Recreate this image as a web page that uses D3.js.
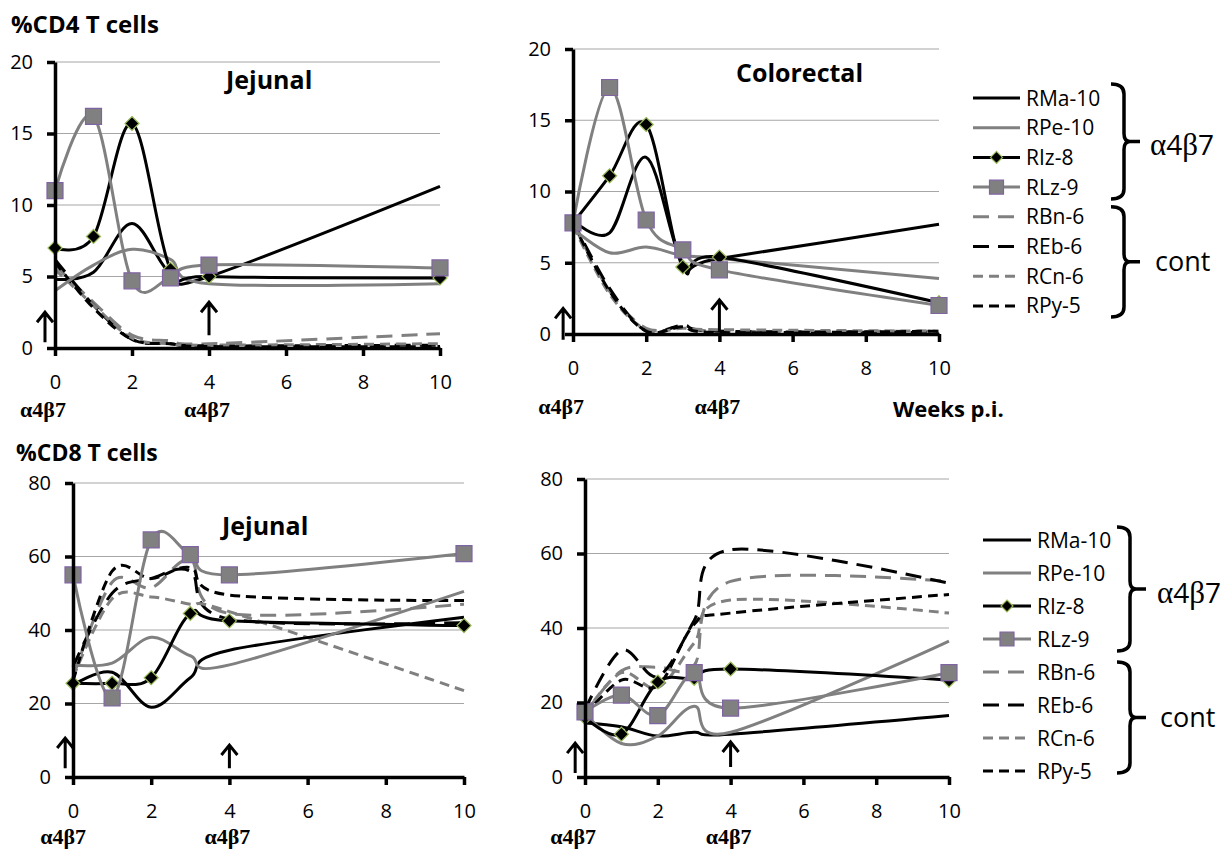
<!DOCTYPE html>
<html><head><meta charset="utf-8">
<script src="https://cdn.jsdelivr.net/npm/d3@7"></script>
<style>body{margin:0;background:#fff}svg{display:block}</style>
</head><body>
<svg id="c" width="1225" height="849"></svg>
<script>
// ---------------- data ----------------
const weeks = [0, 1, 2, 3, 4, 10];
const seriesNames = ["RMa-10", "RPe-10", "RIz-8", "RLz-9", "RBn-6", "REb-6", "RCn-6", "RPy-5"];
const groupLabels = ["α4β7", "cont"];
const weekTicks = [0, 2, 4, 6, 8, 10];
const cd4Ticks = [0, 5, 10, 15, 20];
const cd8Ticks = [0, 20, 40, 60, 80];
const doseWeeks = [0, 4];

// values per series, in seriesNames order
const cd4Jejunal = [
  [4.8, 5.3, 8.7, 5.2, 5.0, 11.3],
  [4.0, 5.8, 6.9, 6.2, 4.5, 4.5],
  [7.0, 7.8, 15.7, 5.5, 5.0, 4.9],
  [11.0, 16.2, 4.7, 4.9, 5.8, 5.6],
  [5.8, 3.2, 0.9, 0.5, 0.3, 1.0],
  [6.2, 3.0, 0.6, 0.3, 0.15, 0.2],
  [5.5, 3.0, 0.7, 0.3, 0.2, 0.3],
  [6.0, 2.8, 0.6, 0.3, 0.1, 0.1]
];
const cd4Colorectal = [
  [8.0, 7.1, 12.4, 5.0, 5.3, 7.7],
  [7.4, 5.7, 6.1, 5.5, 5.3, 3.9],
  [7.8, 11.1, 14.7, 4.7, 5.4, 2.2],
  [7.8, 17.3, 8.0, 5.9, 4.5, 2.0],
  [7.8, 3.0, 0.4, 0.5, 0.2, 0.2],
  [7.9, 3.2, 0.2, 0.6, 0.2, 0.1],
  [7.6, 2.8, 0.3, 0.4, 0.3, 0.2],
  [7.8, 3.0, 0.2, 0.5, 0.1, 0.2]
];
const cd8Jejunal = [
  [25.0, 28.5, 19.0, 27.0, 34.5, 43.5],
  [30.5, 31.0, 38.0, 33.0, 30.5, 50.5],
  [25.5, 25.5, 27.0, 44.5, 42.5, 41.2],
  [55.0, 21.5, 64.5, 60.5, 55.0, 60.8],
  [27.0, 53.0, 51.5, 59.0, 44.5, 47.0],
  [30.0, 50.0, 54.0, 56.0, 43.0, 42.0],
  [27.0, 48.5, 49.0, 47.0, 45.0, 23.5],
  [26.0, 56.0, 54.0, 57.0, 49.5, 48.0]
];
const cd8Colorectal = [
  [14.5, 13.5, 11.0, 12.0, 11.5, 16.5],
  [17.0, 9.0, 11.0, 19.0, 12.0, 36.5],
  [16.0, 11.5, 25.5, 26.5, 29.0, 26.0],
  [17.5, 22.0, 16.5, 28.0, 18.5, 28.0],
  [17.0, 28.5, 29.5, 30.0, 52.5, 52.5],
  [18.0, 34.0, 27.0, 42.0, 61.0, 52.0],
  [17.0, 28.0, 24.0, 36.0, 47.5, 44.0],
  [16.5, 26.0, 24.5, 41.0, 44.0, 49.0]
];

// ---------------- styles ----------------
const seriesColor = ["#000", "#808080", "#000", "#808080", "#808080", "#000", "#808080", "#000"];
const seriesDash = [null, null, null, null, "16,9", "16,9", "10,6", "10,6"];
const seriesMarker = [null, null, "diamond", "square", null, null, null, null];
const drawOrder = [4, 5, 6, 7, 0, 1, 2, 3];

const svg = d3.select("#c");
const FONT = "'Open Sans', sans-serif";
const SERIF = "'Liberation Serif', serif";

function markerPath(type) {
  if (type === "diamond") return "M0,-7L7,0L0,7L-7,0Z";
  return "M-8,-8H8V8H-8Z";
}
function markerFill(type) { return type === "diamond" ? "#000" : "#808080"; }
function markerStroke(type) { return type === "diamond" ? "#9bbb59" : "#8064a2"; }

function drawArrow(g, x, yBottom, yTop) {
  g.append("path")
    .attr("d", `M${x},${yBottom}V${yTop}M${x - 8},${yTop + 10}L${x},${yTop}L${x + 8},${yTop + 10}`)
    .attr("fill", "none").attr("stroke", "#000").attr("stroke-width", 3);
}

function doseLabel(g, cx, baseline) {
  g.append("text").attr("x", cx).attr("y", baseline)
    .attr("text-anchor", "middle").attr("font-family", SERIF)
    .attr("font-weight", "bold").attr("font-size", 22).attr("fill", "#000")
    .text(groupLabels[0]);
}

function drawPanel(p) {
  const x = d3.scaleLinear().domain([0, 10]).range([p.left, p.right]);
  const y = d3.scaleLinear().domain([0, p.ticks[p.ticks.length - 1]]).range([p.bottom, p.top]);
  const g = svg.append("g");

  g.selectAll("line.grid").data(p.ticks.filter(t => t > 0)).join("line")
    .attr("class", "grid")
    .attr("x1", x(0)).attr("x2", x(10))
    .attr("y1", d => y(d)).attr("y2", d => y(d))
    .attr("stroke", "#a6a6a6").attr("stroke-width", 1.2);

  const line = d3.line().x((d, i) => x(weeks[i])).y(d => y(d)).curve(d3.curveCardinal.tension(0));
  drawOrder.forEach(si => {
    g.append("path").attr("d", line(p.data[si]))
      .attr("fill", "none").attr("stroke", seriesColor[si]).attr("stroke-width", 3)
      .attr("stroke-dasharray", seriesDash[si]).attr("stroke-linejoin", "round");
    if (seriesMarker[si]) {
      g.selectAll(null).data(p.data[si]).join("path")
        .attr("transform", (d, i) => `translate(${x(weeks[i])},${y(d)})`)
        .attr("d", markerPath(seriesMarker[si]))
        .attr("fill", markerFill(seriesMarker[si]))
        .attr("stroke", markerStroke(seriesMarker[si])).attr("stroke-width", 1.2);
    }
  });

  // axes
  const ya = g.append("g").attr("transform", `translate(${x(0)},0)`)
    .call(d3.axisLeft(y).tickValues(p.ticks).tickSize(8).tickSizeOuter(0).tickPadding(14));
  const xa = g.append("g").attr("transform", `translate(0,${y(0)})`)
    .call(d3.axisBottom(x).tickValues(weekTicks).tickSize(8).tickSizeOuter(0).tickPadding(19));
  [ya, xa].forEach(a => {
    a.select(".domain").attr("stroke", "#000").attr("stroke-width", 3.5);
    a.selectAll(".tick line").attr("stroke", "#000").attr("stroke-width", 3.5);
    a.selectAll(".tick text").attr("font-family", FONT).attr("font-size", 20).attr("fill", "#000");
  });

  // arrows + dose labels
  p.arrows.forEach(a => {
    drawArrow(g, x(a.week), y(a.from), y(a.to));
    doseLabel(g, x(a.week) - 2, p.doseBaseline);
  });

  if (p.title) {
    g.append("text").attr("x", p.titleX).attr("y", p.titleY)
      .attr("font-family", FONT).attr("font-weight", "bold").attr("font-size", 25)
      .attr("fill", "#000").text(p.title);
  }
}

drawPanel({ left: 55, right: 440, top: 62, bottom: 348, ticks: cd4Ticks, data: cd4Jejunal,
  title: "Jejunal", titleX: 226, titleY: 89, doseBaseline: 417,
  arrows: [{ week: -0.26, from: 0.4, to: 2.5 }, { week: doseWeeks[1], from: 0.9, to: 3.2 }] });
drawPanel({ left: 573, right: 939, top: 49, bottom: 334, ticks: cd4Ticks, data: cd4Colorectal,
  title: "Colorectal", titleX: 736, titleY: 82, doseBaseline: 414,
  arrows: [{ week: -0.27, from: -0.4, to: 1.8 }, { week: doseWeeks[1], from: 0.14, to: 2.4 }] });
drawPanel({ left: 73, right: 464, top: 483, bottom: 777, ticks: cd8Ticks, data: cd8Jejunal,
  title: "Jejunal", titleX: 222, titleY: 535, doseBaseline: 844,
  arrows: [{ week: -0.2, from: 2.4, to: 10.6 }, { week: doseWeeks[1], from: 2.4, to: 8.7 }] });
drawPanel({ left: 585, right: 949, top: 479, bottom: 777, ticks: cd8Ticks, data: cd8Colorectal,
  title: null, doseBaseline: 844,
  arrows: [{ week: -0.27, from: 1.1, to: 9.1 }, { week: doseWeeks[1], from: 2.7, to: 9.4 }] });

// y titles
svg.append("text").attr("x", 11).attr("y", 33).attr("font-family", FONT).attr("font-weight", "bold")
  .attr("font-size", 24).attr("fill", "#000").text("%CD4 T cells");
svg.append("text").attr("x", 16).attr("y", 461).attr("font-family", FONT).attr("font-weight", "bold")
  .attr("font-size", 23).attr("fill", "#000").text("%CD8 T cells");
svg.append("text").attr("x", 893).attr("y", 417).attr("font-family", FONT).attr("font-weight", "bold")
  .attr("font-size", 22).attr("fill", "#000").text("Weeks p.i.");

// legends
function brace(g, x, top, bot) {
  const mid = (top + bot) / 2;
  g.append("path")
    .attr("d", `M${x - 13},${top}Q${x},${top} ${x},${top + 10}L${x},${mid - 8}Q${x},${mid} ${x + 6},${mid}L${x + 16},${mid}M${x + 6},${mid}Q${x},${mid} ${x},${mid + 8}L${x},${bot - 10}Q${x},${bot} ${x - 13},${bot}`)
    .attr("fill", "none").attr("stroke", "#000").attr("stroke-width", 3.5);
  return mid;
}
function groupLabel(g, x, y, label) {
  const t = g.append("text").attr("x", x).attr("y", y).attr("dy", "0.35em")
    .attr("font-size", 28).attr("fill", "#000");
  if (label === groupLabels[0]) {
    t.append("tspan").attr("font-family", SERIF).attr("font-size", 31).text("α");
    t.append("tspan").attr("font-family", FONT).text("4");
    t.append("tspan").attr("font-family", SERIF).attr("font-size", 31).text("β");
    t.append("tspan").attr("font-family", FONT).text("7");
  } else {
    t.attr("font-family", FONT).attr("font-size", 27).text(label);
  }
}
function drawLegend(L) {
  const g = svg.append("g");
  const ry = i => L.y0 + i * L.dy;
  seriesNames.forEach((name, i) => {
    g.append("line").attr("x1", L.x1).attr("x2", L.x2).attr("y1", ry(i)).attr("y2", ry(i))
      .attr("stroke", seriesColor[i]).attr("stroke-width", 3).attr("stroke-dasharray", seriesDash[i]);
    if (seriesMarker[i]) {
      g.append("path").attr("transform", `translate(${(L.x1 + L.x2) / 2},${ry(i)})`)
        .attr("d", seriesMarker[i] === "diamond" ? "M0,-6L6,0L0,6L-6,0Z" : "M-7,-7H7V7H-7Z")
        .attr("fill", markerFill(seriesMarker[i])).attr("stroke", markerStroke(seriesMarker[i])).attr("stroke-width", 1.2);
    }
    g.append("text").attr("x", L.tx).attr("y", ry(i)).attr("dy", "0.36em")
      .attr("font-family", FONT).attr("font-size", 21).attr("fill", "#000").text(name);
  });
  const m1 = brace(g, L.bx, ry(0) - L.bTop, ry(3) + 12);
  groupLabel(g, L.lx1, m1 + 4, groupLabels[0]);
  const m2 = brace(g, L.bx, ry(4) - 10, ry(7) + L.bBot);
  groupLabel(g, L.lx2, m2, groupLabels[1]);
}
drawLegend({ x1: 973, x2: 1020, tx: 1026, y0: 98, dy: 29.7, bx: 1124, bTop: 14, bBot: 11, lx1: 1150, lx2: 1155 });
drawLegend({ x1: 983, x2: 1031, tx: 1037, y0: 540, dy: 33, bx: 1130, bTop: 13, bBot: 2, lx1: 1157, lx2: 1160 });
</script>
</body></html>
